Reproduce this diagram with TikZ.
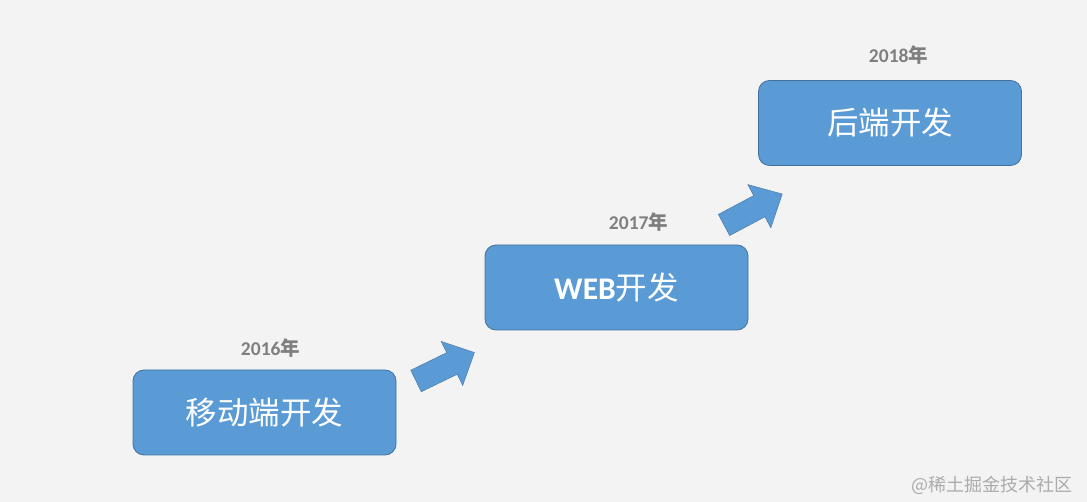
\documentclass[tikz,border=0pt]{standalone}
\usepackage{fontspec}
\setmainfont{Carlito}
\newfontfamily\cjk{Noto Sans CJK SC}
\usepackage{tikz}
\usetikzlibrary{positioning}

\definecolor{bgcol}{HTML}{F3F3F3}
\definecolor{boxfill}{HTML}{5B9BD5}
\definecolor{boxline}{HTML}{41719C}
\definecolor{yeargray}{HTML}{7F7F7F}
\definecolor{markgray}{HTML}{ABABAB}

\begin{document}
\begin{tikzpicture}[x=1pt, y=1pt,
    stage/.style={rectangle, draw=boxline, line width=0.8pt, fill=boxfill, text=white,
        minimum width=263pt, minimum height=85pt, rounded corners=11pt,
        font=\cjk\fontsize{31.5}{31.5}\selectfont},
    year/.style={text=yeargray, font=\bfseries\fontsize{19.5}{19.5}\selectfont},
    stepup/.style={fill=boxfill, draw=boxline, line width=0.4pt}
]

    % Background
    \fill[bgcol] (0,0) rectangle (1087,502);
    \useasboundingbox (0,0) rectangle (1087,502);

    % Stages
    \node[stage] (mobile) at (264.5, 89.5) {移动端开发};
    \node[stage] (web) at (616.5, 214.5) {{\fontspec{Carlito}\bfseries WEB}开发};
    \node[stage] (backend) at (890, 379) {后端开发};

    % Years
    \node[year] (y2016) at (270.5, 154) {2016{\cjk 年}};
    \node[year] (y2017) at (638.5, 280) {2017{\cjk 年}};
    \node[year] (y2018) at (898.5, 447) {2018{\cjk 年}};

    % Arrows
    \draw[stepup, shift={(416,121)}, rotate=26]
        (0,-12) -- (40,-12) -- (40,-24.5) -- (65,0) -- (40,24.5) -- (40,12) -- (0,12) -- cycle;
    \draw[stepup, shift={(724,277)}, rotate=28]
        (0,-12) -- (40,-12) -- (40,-24.5) -- (66,0) -- (40,24.5) -- (40,12) -- (0,12) -- cycle;

    % Watermark
    \node[text=markgray, font=\cjk\fontsize{18}{18}\selectfont, anchor=east] (mark) at (1076, 17) {@稀土掘金技术社区};

\end{tikzpicture}
\end{document}
